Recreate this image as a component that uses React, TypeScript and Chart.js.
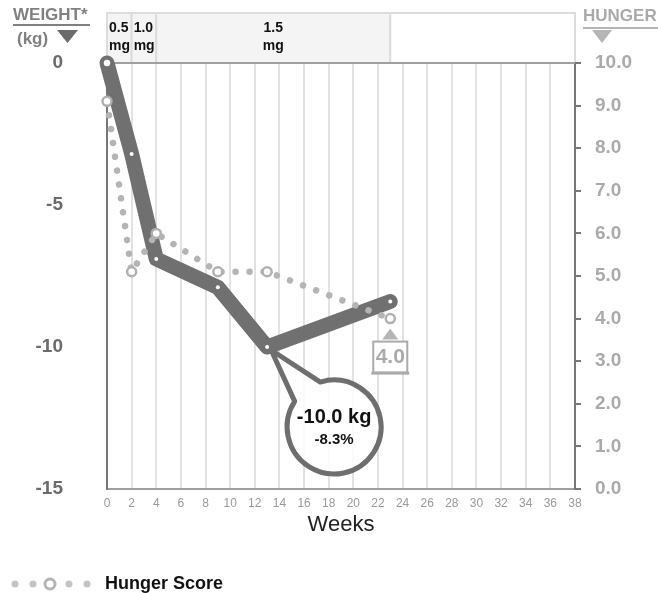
import React, { useEffect, useRef } from 'react';
import { Chart, registerables } from 'chart.js';

Chart.register(...registerables);

const FONT = "'Liberation Sans', Arial, Helvetica, sans-serif";

// ---- data ----
const weightWeeks = [0, 2, 4, 9, 13, 23];
const weightKg = [0, -3.2, -6.9, -7.9, -10.0, -8.4];
const hungerWeeks = [0, 2, 4, 9, 13, 23];
const hungerScore = [9.1, 5.1, 6.0, 5.1, 5.1, 4.0];
const doseStartWeeks = [0, 2, 4, 23];
const doseEndWeeks = [2, 4, 23, 38];
const doseLabels = [['0.5', 'mg'], ['1.0', 'mg'], ['1.5', 'mg'], []];
const weekRange = [0, 38];
const weekTickStep = 2;
const weightRange = [-15, 0];
const weightTickStep = 5;
const hungerRange = [0, 10];
const hungerTickStep = 1;
const calloutIndex = 4;
const calloutText = ['-10.0 kg', '-8.3%'];
const hungerEndLabel = '4.0';
const legendLabel = 'Hunger Score';

const WEIGHT_COLOR = '#707070';
const HUNGER_COLOR = '#b4b4b4';

const overlayPlugin = {
  id: 'overlay',
  beforeDraw(chart: any) {
    const { ctx, chartArea: ca, scales } = chart;
    const x = scales.x;
    ctx.save();
    // dosing band
    const top = 13;
    const bottom = ca.top;
    for (let i = 0; i < doseStartWeeks.length; i++) {
      const x0 = x.getPixelForValue(doseStartWeeks[i]);
      const x1 = x.getPixelForValue(doseEndWeeks[i]);
      const lab = doseLabels[i];
      ctx.fillStyle = lab.length ? '#f4f4f4' : '#ffffff';
      ctx.fillRect(x0, top, x1 - x0, bottom - top);
      ctx.strokeStyle = '#dcdcdc';
      ctx.lineWidth = 2;
      ctx.strokeRect(x0, top, x1 - x0, bottom - top);
      if (lab.length) {
        ctx.fillStyle = '#111';
        ctx.font = `bold 14px ${FONT}`;
        ctx.textBaseline = 'middle';
        const w = x1 - x0;
        if (w > 60) {
          ctx.textAlign = 'center';
          ctx.fillText(lab[0], (x0 + x1) / 2, 28);
          ctx.fillText(lab[1], (x0 + x1) / 2, 46);
        } else {
          ctx.textAlign = 'left';
          ctx.fillText(lab[0], x0 + 2, 28);
          ctx.fillText(lab[1], x0 + 2, 46);
        }
      }
    }
    ctx.restore();
  },
  beforeDatasetsDraw(chart: any) {
    const { ctx, chartArea: ca } = chart;
    ctx.save();
    // top line of plot
    ctx.strokeStyle = '#a0a0a0';
    ctx.lineWidth = 2;
    ctx.beginPath();
    ctx.moveTo(ca.left, ca.top);
    ctx.lineTo(ca.right, ca.top);
    ctx.stroke();

    // callout bubble anchored to the weight point
    const meta = chart.getDatasetMeta(1);
    const pt = meta.data[calloutIndex];
    if (pt) {
      const px = pt.x, py = pt.y;
      const cx = px + 67, cy = py + 80, r = 47;
      const a1 = (-107 * Math.PI) / 180;
      const a2 = (-147 * Math.PI) / 180;
      ctx.beginPath();
      ctx.moveTo(cx + r * Math.cos(a1), cy + r * Math.sin(a1));
      ctx.lineTo(px + 4, py + 3);
      ctx.lineTo(cx + r * Math.cos(a2), cy + r * Math.sin(a2));
      ctx.arc(cx, cy, r, a2, a1, true);
      ctx.closePath();
      ctx.fillStyle = 'rgba(255,255,255,0.85)';
      ctx.fill();
      ctx.strokeStyle = '#6e6e6e';
      ctx.lineWidth = 5;
      ctx.lineJoin = 'round';
      ctx.stroke();
      ctx.fillStyle = '#111';
      ctx.textAlign = 'center';
      ctx.textBaseline = 'middle';
      ctx.font = `bold 20px ${FONT}`;
      ctx.fillText(calloutText[0], cx, cy - 10);
      ctx.font = `bold 15px ${FONT}`;
      ctx.fillText(calloutText[1], cx, cy + 13);
    }
    ctx.restore();
  },
  afterDatasetsDraw(chart: any) {
    const { ctx } = chart;
    const meta = chart.getDatasetMeta(0);
    const last = meta.data[meta.data.length - 1];
    if (!last) return;
    ctx.save();
    const bx = last.x;
    const by = last.y;
    // triangle
    ctx.fillStyle = '#b5b5b5';
    ctx.beginPath();
    ctx.moveTo(bx, by + 10);
    ctx.lineTo(bx + 8, by + 21);
    ctx.lineTo(bx - 8, by + 21);
    ctx.closePath();
    ctx.fill();
    // box
    ctx.fillStyle = '#ffffff';
    ctx.fillRect(bx - 17, by + 23, 34, 31);
    ctx.strokeStyle = '#aaaaaa';
    ctx.lineWidth = 2;
    ctx.strokeRect(bx - 17, by + 23, 34, 31);
    ctx.fillStyle = '#aaaaaa';
    ctx.fillRect(bx - 19, by + 53, 38, 3);
    ctx.font = `bold 21px ${FONT}`;
    ctx.textAlign = 'center';
    ctx.textBaseline = 'middle';
    ctx.fillText(hungerEndLabel, bx, by + 39);
    ctx.restore();
  },
  afterDraw(chart: any) {
    const { ctx } = chart;
    ctx.save();
    // left header
    ctx.fillStyle = '#808080';
    ctx.font = `bold 17px ${FONT}`;
    ctx.textAlign = 'left';
    ctx.textBaseline = 'middle';
    ctx.fillText('WEIGHT*', 13, 15);
    ctx.fillRect(13, 24, 77, 2);
    ctx.fillText('(kg)', 17, 39);
    ctx.fillStyle = '#6a6a6a';
    ctx.beginPath();
    ctx.moveTo(57, 30);
    ctx.lineTo(78, 30);
    ctx.lineTo(67.5, 43);
    ctx.closePath();
    ctx.fill();
    // right header
    ctx.fillStyle = '#aaaaaa';
    ctx.fillText('HUNGER', 583, 16);
    ctx.fillStyle = '#b5b5b5';
    ctx.fillRect(583, 27, 75, 2);
    ctx.beginPath();
    ctx.moveTo(592, 30);
    ctx.lineTo(612, 30);
    ctx.lineTo(602, 43);
    ctx.closePath();
    ctx.fill();
    // legend
    const ly = 584;
    const dotsX = [15, 33, 50, 69, 87];
    dotsX.forEach((dx, i) => {
      ctx.beginPath();
      if (i === 2) {
        ctx.arc(dx, ly, 5, 0, Math.PI * 2);
        ctx.fillStyle = '#fff';
        ctx.fill();
        ctx.lineWidth = 3;
        ctx.strokeStyle = HUNGER_COLOR;
        ctx.stroke();
      } else {
        ctx.arc(dx, ly, 3.5, 0, Math.PI * 2);
        ctx.fillStyle = '#c4c4c4';
        ctx.fill();
      }
    });
    ctx.fillStyle = '#111';
    ctx.font = `bold 18px ${FONT}`;
    ctx.textAlign = 'left';
    ctx.textBaseline = 'middle';
    ctx.fillText(legendLabel, 105, ly);
    ctx.restore();
  },
};

export default function App() {
  const ref = useRef<HTMLCanvasElement | null>(null);

  useEffect(() => {
    if (!ref.current) return;
    const chart = new Chart(ref.current, {
      type: 'line',
      data: {
        datasets: [
          {
            label: legendLabel,
            data: hungerWeeks.map((w, i) => ({ x: w, y: hungerScore[i] })),
            yAxisID: 'y1',
            borderColor: HUNGER_COLOR,
            borderWidth: 6.5,
            borderDash: [0.001, 14],
            borderCapStyle: 'round',
            pointRadius: 4.5,
            pointBorderWidth: 2.5,
            pointBorderColor: '#b0b0b0',
            pointBackgroundColor: '#ffffff',
            tension: 0,
            order: 0,
            clip: false,
          } as any,
          {
            label: 'Weight',
            data: weightWeeks.map((w, i) => ({ x: w, y: weightKg[i] })),
            yAxisID: 'y',
            borderColor: WEIGHT_COLOR,
            borderWidth: 15,
            borderCapStyle: 'round',
            borderJoinStyle: 'round',
            pointRadius: weightWeeks.map((_, i) => (i === 0 ? 4.5 : 2)),
            pointBorderWidth: weightWeeks.map((_, i) => (i === 0 ? 2.5 : 0)),
            pointBorderColor: WEIGHT_COLOR,
            pointBackgroundColor: '#ffffff',
            tension: 0,
            order: 1,
            clip: false,
          } as any,
        ],
      },
      options: {
        animation: false,
        responsive: false,
        layout: { padding: { top: 63, bottom: 53, left: 0, right: 0 } },
        plugins: { legend: { display: false }, tooltip: { enabled: false } },
        scales: {
          x: {
            type: 'linear',
            min: weekRange[0],
            max: weekRange[1],
            ticks: {
              stepSize: weekTickStep,
              color: '#999999',
              font: { family: FONT, size: 12 },
              padding: 7,
            },
            grid: { color: '#e2e2e2', lineWidth: 2, drawTicks: false },
            border: { color: '#a0a0a0', width: 2 },
            title: {
              display: true,
              text: 'Weeks',
              color: '#222222',
              font: { family: FONT, size: 22 },
              padding: { top: 2, bottom: 2 },
            },
            afterFit: (s: any) => {
              s.height = 51;
            },
          },
          y: {
            type: 'linear',
            position: 'left',
            min: weightRange[0],
            max: weightRange[1],
            ticks: {
              stepSize: weightTickStep,
              color: '#6a6a6a',
              font: { family: FONT, size: 19, weight: 'bold' },
              padding: 36,
            },
            grid: { display: false },
            border: { color: '#777777', width: 2 },
            afterFit: (s: any) => {
              s.width = 107;
            },
          },
          y1: {
            type: 'linear',
            position: 'right',
            min: hungerRange[0],
            max: hungerRange[1],
            ticks: {
              stepSize: hungerTickStep,
              color: '#aaaaaa',
              font: { family: FONT, size: 19, weight: 'bold' },
              padding: 14,
              callback: (v: any) => Number(v).toFixed(1),
            },
            grid: {
              drawOnChartArea: false,
              drawTicks: true,
              tickLength: 6,
              color: '#777777',
              lineWidth: 2,
            },
            border: { color: '#777777', width: 2 },
            afterFit: (s: any) => {
              s.width = 83;
            },
          },
        },
      } as any,
      plugins: [overlayPlugin],
    });
    return () => chart.destroy();
  }, []);

  return (
    <div style={{ position: 'absolute', left: 0, top: 0, width: 658, height: 593, background: '#fff' }}>
      <canvas ref={ref} width={658} height={593} style={{ display: 'block' }} />
    </div>
  );
}
